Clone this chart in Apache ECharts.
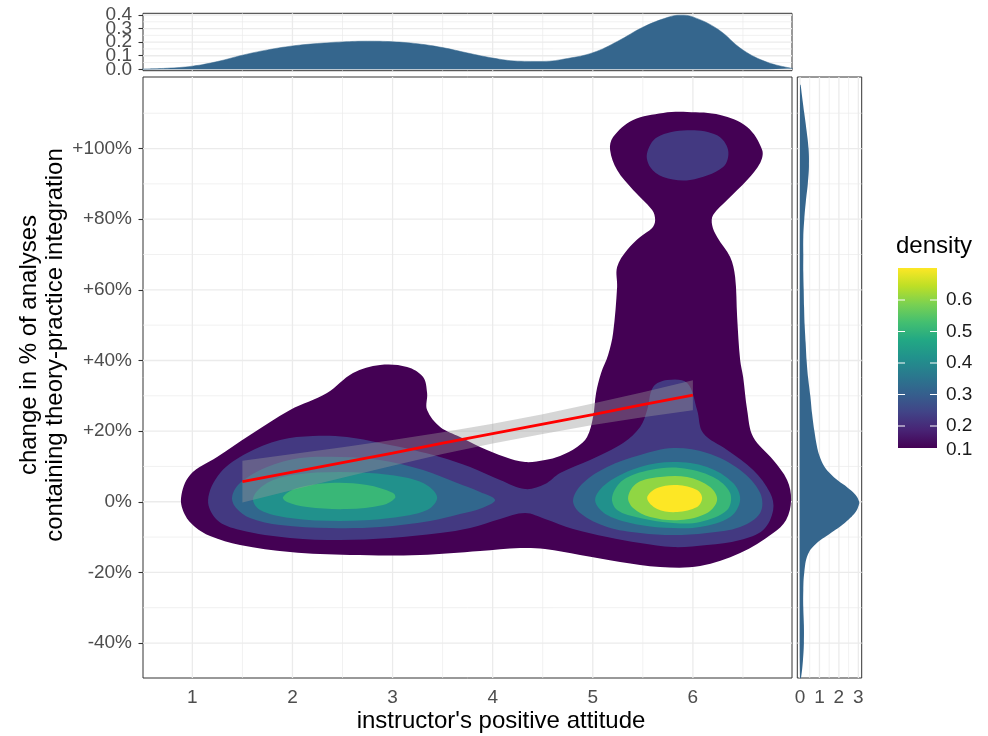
<!DOCTYPE html>
<html><head><meta charset="utf-8">
<script src="https://cdn.jsdelivr.net/npm/echarts@6/dist/echarts.min.js"></script>
<style>html,body{margin:0;padding:0;background:#fff}#c{width:988px;height:736px}</style>
</head><body><div id="c"></div>
<script>
// ---------- axis ticks / gridlines ----------
const xTicks = [1, 2, 3, 4, 5, 6];
const xMinor = [1.5, 2.5, 3.5, 4.5, 5.5, 6.5];
const yTicks = [-40, -20, 0, 20, 40, 60, 80, 100];
const yMinor = [-30, -10, 10, 30, 50, 70, 90, 110];
const topTicks = [0, 0.1, 0.2, 0.3, 0.4];
const topTicksEven = [0, 0.2, 0.4];
const topTicksOdd = [0.1, 0.3];
const topMinor = [0.05, 0.15, 0.25, 0.35];
const rightTicks = [0, 1, 2, 3];
const rightMinor = [0.5, 1.5, 2.5];
const legendBreaks = [0.6, 0.5, 0.4, 0.3, 0.2, 0.1];

// ---------- 2D density contour regions (x = attitude, y = % change) ----------
const level01 = [[0.887,1.05],[0.977,7.56],[1.247,12.65],[1.576,18.88],[1.976,25.97],[2.345,30.78],[2.605,36.45],[2.875,38.71],[3.145,38.14],[3.305,35.31],[3.345,30.78],[3.345,25.97],[3.475,21.15],[3.674,18.32],[3.874,15.49],[4.124,12.65],[4.324,11.24],[4.523,11.81],[4.673,12.94],[4.843,15.49],[4.943,18.32],[5.003,23.98],[5.033,30.78],[5.083,36.45],[5.153,41.54],[5.203,47.77],[5.243,60.8],[5.243,66.46],[5.343,71.27],[5.473,74.96],[5.593,77.5],[5.623,79.77],[5.593,82.6],[5.403,88.27],[5.243,93.93],[5.173,99.59],[5.203,103.27],[5.403,108.08],[5.703,110.07],[5.943,110.35],[6.273,109.5],[6.542,106.1],[6.692,99.59],[6.672,95.91],[6.542,91.1],[6.342,85.43],[6.202,81.19],[6.192,78.36],[6.242,74.96],[6.372,69.29],[6.422,63.63],[6.442,52.3],[6.472,40.12],[6.502,35.31],[6.542,25.97],[6.602,18.32],[6.802,11.81],[6.941,6.15],[6.981,0.48],[6.931,-5.18],[6.802,-8.86],[6.472,-14.53],[6.072,-18.21],[5.673,-18.49],[5.273,-17.07],[4.873,-15.09],[4.523,-13.39],[4.274,-13.11],[3.874,-13.96],[3.275,-15.09],[2.576,-15.09],[1.976,-14.25],[1.476,-12.26],[1.177,-9.72],[1.027,-7.17],[0.927,-3.77]];
const level02main = [[1.157,0.48],[1.277,8.13],[1.547,13.79],[1.876,17.47],[2.206,18.6],[2.545,18.32],[2.875,16.62],[3.205,14.64],[3.475,12.65],[3.775,9.82],[4.074,6.15],[4.324,3.6],[4.523,5.01],[4.673,8.13],[4.973,11.81],[5.303,16.62],[5.473,21.15],[5.543,25.97],[5.603,32.48],[5.743,34.46],[5.943,33.61],[6.042,25.97],[6.102,19.45],[6.342,14.64],[6.602,8.98],[6.772,2.46],[6.802,-2.35],[6.702,-8.01],[6.472,-10.84],[6.142,-12.26],[5.803,-12.83],[5.473,-11.7],[5.143,-10.0],[4.803,-7.73],[4.523,-4.9],[4.324,-3.2],[4.074,-4.9],[3.775,-7.45],[3.475,-8.86],[2.975,-10.28],[2.476,-10.84],[1.976,-10.28],[1.476,-8.01],[1.247,-5.18]];
const level02top = [[5.542,98.65],[5.643,103.19],[5.942,105.17],[6.242,103.76],[6.352,99.51],[6.302,94.78],[5.972,91.1],[5.703,91.95],[5.573,94.78]];
const level03left = [[1.397,1.33],[1.476,5.3],[1.746,9.82],[2.076,12.37],[2.476,12.65],[2.875,11.81],[3.305,8.98],[3.645,5.3],[3.874,2.75],[4.024,0.48],[3.894,-1.78],[3.674,-3.48],[3.375,-5.46],[2.875,-7.17],[2.376,-7.45],[1.876,-6.6],[1.576,-4.62],[1.437,-1.78]];
const level03right = [[4.803,0.48],[4.903,5.3],[5.143,9.82],[5.473,13.22],[5.803,15.2],[6.142,13.79],[6.472,8.98],[6.672,2.46],[6.672,-3.2],[6.472,-7.17],[6.142,-8.86],[5.803,-9.43],[5.473,-8.86],[5.143,-7.17],[4.873,-3.2]];
const level04left = [[1.607,1.05],[1.746,5.3],[2.006,7.56],[2.476,8.41],[2.975,7.56],[3.305,5.3],[3.445,1.33],[3.345,-2.35],[2.975,-4.62],[2.476,-5.46],[1.976,-4.62],[1.677,-2.35]];
const level04right = [[5.023,0.48],[5.143,5.3],[5.473,9.82],[5.803,11.24],[6.142,9.82],[6.402,5.3],[6.472,0.48],[6.372,-4.33],[6.072,-7.17],[5.803,-7.45],[5.473,-6.6],[5.143,-3.77]];
const level05left = [[1.906,1.33],[2.046,3.88],[2.376,5.3],[2.745,4.73],[3.005,2.46],[3.025,1.05],[2.905,-0.93],[2.545,-2.07],[2.146,-1.5],[1.946,-0.08]];
const level05right = [[5.193,1.33],[5.303,6.15],[5.573,8.98],[5.873,9.54],[6.202,7.0],[6.372,2.46],[6.342,-2.35],[6.072,-5.75],[5.803,-6.03],[5.473,-4.62],[5.243,-2.35]];
const level06right = [[5.353,1.33],[5.443,5.3],[5.673,7.0],[5.942,7.0],[6.172,4.16],[6.242,0.48],[6.142,-3.2],[5.873,-5.18],[5.573,-4.33],[5.403,-1.78]];
const level07right = [[5.543,1.05],[5.643,3.88],[5.843,4.73],[6.042,3.31],[6.092,1.05],[6.042,-1.5],[5.843,-2.92],[5.643,-2.07]];
const contourPolys  = [level01, level02main, level02top, level03left, level03right, level04left, level04right, level05left, level05right, level06right, level07right];
const contourLevels = [0.1, 0.2, 0.2, 0.3, 0.3, 0.4, 0.4, 0.5, 0.5, 0.6, 0.7];

// ---------- linear fit with confidence band ----------
const bandX  = [1.5, 2, 2.5, 3, 3.5, 4, 4.5, 5, 5.5, 6];
const fitY   = [5.7, 8.4, 11.1, 13.8, 16.6, 19.3, 22.0, 24.7, 27.5, 30.2];
const bandLo = [-0.2, 3.3, 6.8, 10.2, 13.5, 16.5, 19.2, 21.7, 23.9, 25.9];
const bandHi = [11.6, 13.5, 15.4, 17.5, 19.7, 22.1, 24.8, 27.8, 31.0, 34.4];

// ---------- marginal densities ----------
const topX = [0.5,0.75,1,1.25,1.5,1.75,2,2.25,2.5,2.75,3,3.25,3.5,3.75,4,4.25,4.5,4.75,5,5.25,5.5,5.75,5.875,6,6.25,6.5,6.75,7];
const topD = [0.002,0.008,0.023,0.057,0.104,0.143,0.172,0.19,0.202,0.207,0.203,0.188,0.16,0.12,0.083,0.06,0.058,0.08,0.122,0.207,0.31,0.383,0.399,0.386,0.295,0.142,0.05,0.006];
const rightY = [-49.9,-45,-40,-35,-30,-25,-20,-15,-12,-9,-6,-3,-1,0,2,4,6,8,10,13,16,20,25,30,35,40,45,50,55,60,65,70,75,80,85,90,95,100,105,110,115,118];
const rightD = [0.05,0.15,0.2,0.2,0.17,0.17,0.22,0.4,0.8,1.55,2.3,2.85,3.02,3.04,2.85,2.45,1.95,1.55,1.25,1.0,0.86,0.74,0.62,0.53,0.42,0.34,0.29,0.24,0.21,0.19,0.17,0.17,0.17,0.22,0.3,0.4,0.46,0.44,0.34,0.22,0.1,0.03];

// ---------- styling ----------
const FONT = '"Liberation Sans", Arial, Helvetica, sans-serif';
const viridisStops = ['#440154','#482475','#414487','#355F8D','#2A788E','#21918C','#22A884','#44BF70','#7AD151','#BDDF26','#FDE725'];
function hex2rgb(h){return [parseInt(h.slice(1,3),16),parseInt(h.slice(3,5),16),parseInt(h.slice(5,7),16)];}
function viridis(t){
  t = Math.max(0, Math.min(1, t));
  const f = t * (viridisStops.length - 1), i = Math.floor(f), r = f - i;
  const a = hex2rgb(viridisStops[i]), b = hex2rgb(viridisStops[Math.min(i + 1, viridisStops.length - 1)]);
  return 'rgb(' + a.map((v, k) => Math.round(v + (b[k] - v) * r)).join(',') + ')';
}
const levelLo = 0.1, levelHi = 0.7;
const levelColor = v => viridis((v - levelLo) / (levelHi - levelLo));

const X_MIN = 0.507, X_MAX = 6.99, Y_MIN = -49.9, Y_MAX = 120.26;
const TOP_MIN = -0.0103, TOP_MAX = 0.4125;

function gridLines(xi, yi, vals, dir, width, ref){
  return {
    type: 'custom', xAxisIndex: xi, yAxisIndex: yi, z: 1, silent: true,
    data: vals.map(v => dir === 'v' ? [v, ref] : [ref, v]),
    renderItem(params, api){
      const cs = params.coordSys;
      const p = api.coord([api.value(0), api.value(1)]);
      const shape = dir === 'v'
        ? {x1: p[0], y1: cs.y, x2: p[0], y2: cs.y + cs.height}
        : {x1: cs.x, y1: p[1], x2: cs.x + cs.width, y2: p[1]};
      return {type: 'line', shape, style: {stroke: '#EBEBEB', lineWidth: width}};
    }
  };
}
const MAJ = 1.3, MIN = 0.7;
const tickStyle = {show: true, length: 4.5, lineStyle: {color: '#333333', width: 1.1}};
const labelBase = {color: '#4D4D4D', fontSize: 19, fontFamily: FONT, hideOverlap: false, showMinLabel: true, showMaxLabel: true, interval: 0};

const chart = echarts.init(document.getElementById('c'), null, {renderer: 'canvas'});
const gridCommon = {show: true, borderColor: '#333333', borderWidth: 1, backgroundColor: 'transparent', containLabel: false};

const legendTop = 268, legendH = 180, legendX = 898, legendW = 39;
const breakY = v => Math.min(457.5 - (v - 0.1) * 315, 450);

const graphic = [
  {type: 'text', x: 501, y: 721, style: {text: "instructor's positive attitude", fontSize: 24, fontFamily: FONT, fill: '#000', align: 'center', verticalAlign: 'middle', textAlign: 'center', textVerticalAlign: 'middle'}},
  {type: 'text', x: 42, y: 345, rotation: Math.PI / 2, style: {text: 'change in % of analyses\ncontaining theory-practice integration', fontSize: 24, lineHeight: 26, fontFamily: FONT, fill: '#000', align: 'center', verticalAlign: 'middle', textAlign: 'center', textVerticalAlign: 'middle'}},
  {type: 'text', x: 896, y: 246, style: {text: 'density', fontSize: 24, fontFamily: FONT, fill: '#000', align: 'left', verticalAlign: 'middle', textAlign: 'left', textVerticalAlign: 'middle'}},
  {type: 'rect', shape: {x: legendX, y: legendTop, width: legendW, height: legendH},
   style: {fill: {type: 'linear', x: 0, y: 1, x2: 0, y2: 0, colorStops: viridisStops.map((c, i) => ({offset: i / (viridisStops.length - 1), color: c}))}}}
];
legendBreaks.forEach(v => {
  const y = breakY(v);
  if (v > 0.15) {
    graphic.push({type: 'line', shape: {x1: legendX, y1: y, x2: legendX + 7, y2: y}, style: {stroke: '#fff', lineWidth: 1}});
    graphic.push({type: 'line', shape: {x1: legendX + legendW - 7, y1: y, x2: legendX + legendW, y2: y}, style: {stroke: '#fff', lineWidth: 1}});
  }
  graphic.push({type: 'text', x: 946, y: y, style: {text: v.toFixed(1), fontSize: 19, fontFamily: FONT, fill: '#1A1A1A', align: 'left', verticalAlign: 'middle', textAlign: 'left', textVerticalAlign: 'middle'}});
});

const option = {
  animation: false,
  backgroundColor: '#ffffff',
  grid: [
    Object.assign({left: 143, top: 77, width: 649, height: 601}, gridCommon),
    Object.assign({left: 143, top: 13.3, width: 649, height: 57.4}, gridCommon),
    Object.assign({left: 797.3, top: 77, width: 64.4, height: 601}, gridCommon)
  ],
  xAxis: [
    {gridIndex: 0, type: 'value', min: X_MIN, max: X_MAX, axisLine: {show: false}, splitLine: {show: false},
     axisTick: Object.assign({customValues: xTicks}, tickStyle),
     axisLabel: Object.assign({customValues: xTicks, margin: 10}, labelBase)},
    {gridIndex: 1, type: 'value', min: X_MIN, max: X_MAX, axisLine: {show: false}, splitLine: {show: false}, axisTick: {show: false}, axisLabel: {show: false}},
    {gridIndex: 2, type: 'value', min: -0.139, max: 3.172, axisLine: {show: false}, splitLine: {show: false},
     axisTick: Object.assign({customValues: rightTicks}, tickStyle),
     axisLabel: Object.assign({customValues: rightTicks, margin: 10}, labelBase)}
  ],
  yAxis: [
    {gridIndex: 0, type: 'value', min: Y_MIN, max: Y_MAX, axisLine: {show: false}, splitLine: {show: false},
     axisTick: Object.assign({customValues: yTicks}, tickStyle),
     axisLabel: Object.assign({customValues: yTicks, margin: 11, formatter: v => (v > 0 ? '+' : '') + v + '%'}, labelBase)},
    {gridIndex: 1, type: 'value', min: TOP_MIN, max: TOP_MAX, axisLine: {show: false}, splitLine: {show: false},
     axisTick: Object.assign({customValues: topTicksEven}, tickStyle),
     axisLabel: Object.assign({customValues: topTicksEven, margin: 11, formatter: v => v.toFixed(1)}, labelBase)},
    {gridIndex: 2, type: 'value', min: Y_MIN, max: Y_MAX, axisLine: {show: false}, splitLine: {show: false}, axisTick: {show: false}, axisLabel: {show: false}},
    {gridIndex: 1, type: 'value', position: 'left', offset: 0, min: TOP_MIN, max: TOP_MAX, axisLine: {show: false}, splitLine: {show: false},
     axisTick: Object.assign({customValues: topTicksOdd}, tickStyle),
     axisLabel: Object.assign({customValues: topTicksOdd, margin: 11, formatter: v => v.toFixed(1)}, labelBase)}
  ],
  series: [
    gridLines(0, 0, xMinor, 'v', MIN, 0), gridLines(0, 0, xTicks, 'v', MAJ, 0),
    gridLines(0, 0, yMinor, 'h', MIN, 1), gridLines(0, 0, yTicks, 'h', MAJ, 1),
    gridLines(1, 1, xMinor, 'v', MIN, 0), gridLines(1, 1, xTicks, 'v', MAJ, 0),
    gridLines(1, 1, topMinor, 'h', MIN, 1), gridLines(1, 1, topTicks, 'h', MAJ, 1),
    gridLines(2, 2, rightMinor, 'v', MIN, 0), gridLines(2, 2, rightTicks, 'v', MAJ, 0),
    gridLines(2, 2, yMinor, 'h', MIN, 0), gridLines(2, 2, yTicks, 'h', MAJ, 0),
    {
      type: 'custom', name: 'density contours', xAxisIndex: 0, yAxisIndex: 0, z: 2, silent: true,
      data: contourPolys.map((p, i) => [i]),
      renderItem(params, api){
        const idx = api.value(0);
        return {type: 'polygon', z2: idx,
          shape: {points: contourPolys[idx].map(p => api.coord(p)), smooth: 0.35},
          style: {fill: levelColor(contourLevels[idx]), stroke: null}};
      }
    },
    {
      type: 'custom', name: 'confidence band', xAxisIndex: 0, yAxisIndex: 0, z: 3, silent: true,
      data: [[bandX[0]]],
      renderItem(params, api){
        const pts = bandX.map((x, i) => api.coord([x, bandHi[i]]))
          .concat(bandX.map((x, i) => api.coord([x, bandLo[i]])).reverse());
        return {type: 'polygon', shape: {points: pts}, style: {fill: 'rgba(153,153,153,0.4)', stroke: null}};
      }
    },
    {
      type: 'line', name: 'fit', xAxisIndex: 0, yAxisIndex: 0, z: 4, silent: true,
      data: bandX.map((x, i) => [x, fitY[i]]), symbol: 'none',
      lineStyle: {color: '#FF0000', width: 2.8}
    },
    {
      type: 'line', name: 'x density', xAxisIndex: 1, yAxisIndex: 1, z: 2, silent: true,
      data: topX.map((x, i) => [x, topD[i]]), symbol: 'none', smooth: 0.4,
      lineStyle: {color: '#35668D', width: 0.5}, areaStyle: {color: '#35668D', opacity: 1}
    },
    {
      type: 'custom', name: 'y density', xAxisIndex: 2, yAxisIndex: 2, z: 2, silent: true,
      data: [[0, 0]],
      renderItem(params, api){
        const pts = [api.coord([0, rightY[0]])]
          .concat(rightD.map((d, i) => api.coord([d, rightY[i]])))
          .concat([api.coord([0, rightY[rightY.length - 1]])]);
        return {type: 'polygon', shape: {points: pts, smooth: 0.4}, style: {fill: '#35668D', stroke: null}};
      }
    }
  ],
  graphic: graphic
};
chart.setOption(option);
</script>
</body></html>
